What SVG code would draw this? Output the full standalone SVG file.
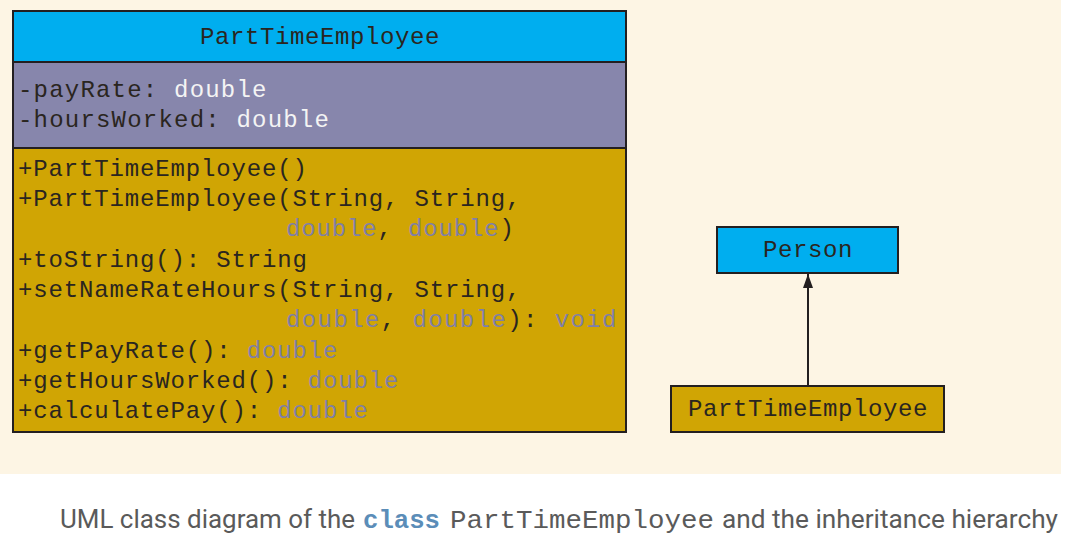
<svg xmlns="http://www.w3.org/2000/svg" width="1073" height="555" viewBox="0 0 1073 555">
<defs>
<style>
.m{font-family:"Liberation Mono","DejaVu Sans Mono",monospace;font-size:24px;fill:#2a2520;letter-spacing:0.85px}
.t{letter-spacing:0.6px}
.a{letter-spacing:1.2px}
.v{letter-spacing:1.4px}
.w{fill:#f4f4f4}
.g{fill:#7f7fa8}
.box{stroke:#231f20;stroke-width:2}
.cap{font-family:"Roboto","Liberation Sans",sans-serif;font-size:25px;fill:#5a5a5a}
</style>
<marker id="ah" viewBox="0 0 14 10" refX="14" refY="5" markerWidth="14" markerHeight="10" markerUnits="userSpaceOnUse" orient="auto">
<path d="M0,0 L14,5 L0,10 Z" fill="#231f20"/>
</marker>
</defs>
<rect x="0" y="0" width="1061" height="474" fill="#fdf5e4"/>
<rect x="0" y="474" width="1073" height="81" fill="#ffffff"/>
<g id="class-ptemp">
<rect class="box" x="13" y="11" width="613" height="51" fill="#00aeef"/>
<rect class="box" x="13" y="62" width="613" height="86" fill="#8786ac"/>
<rect class="box" x="13" y="148" width="613" height="284" fill="#d0a504"/>
<text class="m t" x="320" y="44" text-anchor="middle">PartTimeEmployee</text>
<text class="m a" x="18" y="97">-payRate: <tspan class="w">double</tspan></text>
<text class="m a" x="18" y="127">-hoursWorked: <tspan class="w">double</tspan></text>
<text class="m" x="18" y="176">+PartTimeEmployee()</text>
<text class="m" x="18" y="206">+PartTimeEmployee(String, String,</text>
<text class="m" x="286" y="236"><tspan class="g">double</tspan>, <tspan class="g">double</tspan>)</text>
<text class="m" x="18" y="267">+toString(): String</text>
<text class="m" x="18" y="297">+setNameRateHours(String, String,</text>
<text class="m v" x="286" y="327"><tspan class="g">double</tspan>, <tspan class="g">double</tspan>): <tspan class="g">void</tspan></text>
<text class="m" x="18" y="358">+getPayRate(): <tspan class="g">double</tspan></text>
<text class="m" x="18" y="388">+getHoursWorked(): <tspan class="g">double</tspan></text>
<text class="m" x="18" y="418">+calculatePay(): <tspan class="g">double</tspan></text>
</g>
<g id="person">
<rect class="box" x="717" y="227" width="181" height="46" fill="#00aeef"/>
<text class="m t" x="808" y="257" text-anchor="middle">Person</text>
</g>
<g id="ptemp-small">
<rect class="box" x="671" y="386" width="273" height="46" fill="#d0a504"/>
<text class="m t" x="808" y="416" text-anchor="middle">PartTimeEmployee</text>
</g>
<g id="connectors">
<line x1="808" y1="386" x2="808" y2="274" stroke="#231f20" stroke-width="2" marker-end="url(#ah)"/>
</g>
<g id="caption">
<text class="cap" x="60" y="528" textLength="295" lengthAdjust="spacingAndGlyphs">UML class diagram of the</text>
<text x="363" y="528" font-family="'Liberation Mono',monospace" font-weight="bold" font-size="25" fill="#5b8db8" textLength="77" lengthAdjust="spacingAndGlyphs">class</text>
<text x="450" y="528" font-family="'Liberation Mono',monospace" font-size="25" fill="#5a5a5a" textLength="264" lengthAdjust="spacingAndGlyphs">PartTimeEmployee</text>
<text class="cap" x="722" y="528" textLength="336" lengthAdjust="spacingAndGlyphs">and the inheritance hierarchy</text>
</g>
</svg>
